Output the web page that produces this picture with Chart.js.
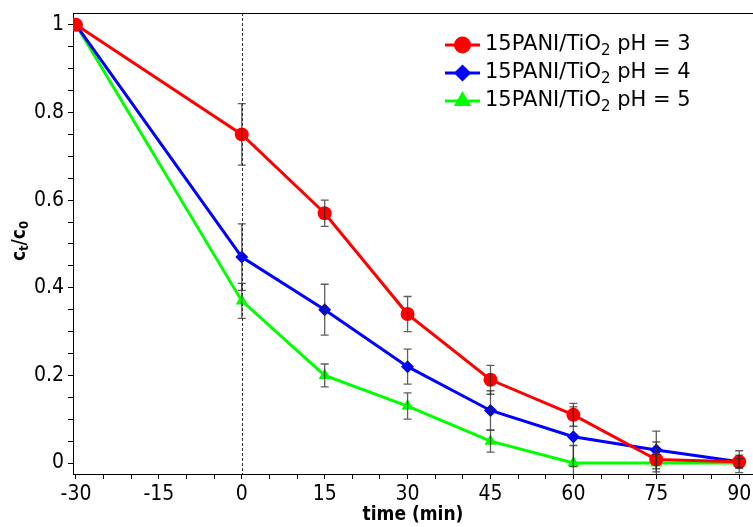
<!DOCTYPE html>
<html>
<head>
<meta charset="utf-8">
<script src="https://cdn.jsdelivr.net/npm/chart.js@4/dist/chart.umd.min.js"></script>
<style>
html, body { margin: 0; padding: 0; background: #fff; overflow: hidden; }
#wrap { width: 753px; height: 527px; position: relative; }
</style>
</head>
<body>
<div id="wrap"><canvas id="myChart"></canvas></div>
<script>
// time points (min)
const times = [-30, 0, 15, 30, 45, 60, 75, 90];
// c_t/c_0 for each pH
const ph3 = [1, 0.75, 0.57, 0.34, 0.19, 0.11, 0.008, 0.003];
const ph3Err = [0, 0.07, 0.03, 0.04, 0.033, 0.026, 0.04, 0.025];
const ph4 = [1, 0.47, 0.35, 0.22, 0.12, 0.06, 0.03, 0.003];
const ph4Err = [0, 0.076, 0.058, 0.04, 0.045, 0.068, 0.043, 0.015];
const ph5 = [1, 0.37, 0.20, 0.13, 0.05, 0, 0, 0];
const ph5Err = [0, 0.04, 0.026, 0.03, 0.025, 0.04, 0.02, 0.01];
// legend labels: [before subscript, subscript, after]
const legendLabels = [
    ['15PANI/TiO', '2', ' pH = 3'],
    ['15PANI/TiO', '2', ' pH = 4'],
    ['15PANI/TiO', '2', ' pH = 5']
];
const xTickLabels = [-30, -15, 0, 15, 30, 45, 60, 75, 90];
const yTickLabels = [0, 0.2, 0.4, 0.6, 0.8, 1];

const FONT = '"DejaVu Sans Condensed", "DejaVu Sans", sans-serif';
const LEGEND_FONT = '"DejaVu Sans", sans-serif';

function pts(ys) {
    return times.map((t, i) => ({ x: t, y: ys[i] }));
}

const errorBars = {
    id: 'errorBars',
    afterDatasetsDraw(chart) {
        const c = chart.ctx, xs = chart.scales.x, ys = chart.scales.y, a = chart.chartArea;
        c.save();
        c.beginPath();
        c.rect(a.left, a.top, a.right - a.left, a.bottom - a.top);
        c.clip();
        c.strokeStyle = 'rgba(40,40,40,0.75)';
        c.lineWidth = 1.3;
        chart.data.datasets.forEach(ds => {
            ds.data.forEach((p, i) => {
                const e = ds.err[i];
                if (!e) return;
                const px = xs.getPixelForValue(p.x);
                const top = ys.getPixelForValue(p.y + e);
                const bot = ys.getPixelForValue(p.y - e);
                c.beginPath();
                c.moveTo(px, top); c.lineTo(px, bot);
                c.moveTo(px - 4, top); c.lineTo(px + 4, top);
                c.moveTo(px - 4, bot); c.lineTo(px + 4, bot);
                c.stroke();
            });
        });
        c.restore();
    }
};

const extras = {
    id: 'extras',
    beforeDatasetsDraw(chart) {
        const c = chart.ctx, xs = chart.scales.x, a = chart.chartArea;
        c.save();
        // dashed line at t = 0
        const x0 = Math.round(xs.getPixelForValue(0)) + 0.5;
        c.strokeStyle = '#333';
        c.lineWidth = 1;
        c.setLineDash([3, 2]);
        c.beginPath();
        c.moveTo(x0, a.top); c.lineTo(x0, a.bottom);
        c.stroke();
        c.setLineDash([]);
        // top frame line
        c.strokeStyle = '#000';
        c.beginPath();
        c.moveTo(a.left, a.top + 0.5); c.lineTo(a.right, a.top + 0.5);
        c.stroke();
        c.restore();
    },
    afterDraw(chart) {
        const c = chart.ctx;
        c.save();
        // legend
        const lx = 445, ly = 45, gap = 28;
        chart.data.datasets.forEach((ds, i) => {
            const y = ly + i * gap;
            c.strokeStyle = ds.borderColor;
            c.lineWidth = 3;
            c.beginPath();
            c.moveTo(lx, y); c.lineTo(lx + 35, y);
            c.stroke();
            Chart.helpers.drawPoint(c, {
                pointStyle: ds.pointStyle, radius: ds.pointRadius, borderWidth: 1
            }, lx + 17.5, y);
            c.fillStyle = ds.pointBackgroundColor;
            c.fill();
            const parts = legendLabels[i];
            c.fillStyle = '#000';
            c.textBaseline = 'middle';
            c.textAlign = 'left';
            c.font = '21px ' + LEGEND_FONT;
            let tx = lx + 40;
            c.fillText(parts[0], tx, y);
            tx += c.measureText(parts[0]).width;
            c.font = '15px ' + LEGEND_FONT;
            c.fillText(parts[1], tx, y + 6);
            tx += c.measureText(parts[1]).width;
            c.font = '21px ' + LEGEND_FONT;
            c.fillText(parts[2], tx, y);
        });
        // y axis title c_t/c_0
        c.translate(20, 241);
        c.rotate(-Math.PI / 2);
        const seg = [['c', 0, 19], ['t', 5, 13], ['/c', 0, 19], ['0', 5, 13]];
        let w = 0;
        seg.forEach(s => { c.font = 'bold ' + s[2] + 'px ' + FONT; w += c.measureText(s[0]).width; });
        let x = -w / 2;
        c.fillStyle = '#000';
        c.textBaseline = 'middle';
        seg.forEach(s => {
            c.font = 'bold ' + s[2] + 'px ' + FONT;
            c.fillText(s[0], x, s[1]);
            x += c.measureText(s[0]).width;
        });
        c.restore();
    }
};

const ctx = document.getElementById('myChart').getContext('2d');
const myChart = new Chart(ctx, {
    type: 'line',
    data: {
        datasets: [
            {
                label: '15PANI/TiO2 pH = 3', data: pts(ph3), err: ph3Err,
                borderColor: '#ff0000', backgroundColor: '#ff0000', pointBackgroundColor: '#ff0000',
                pointStyle: 'circle', pointRadius: 7, borderWidth: 3, pointBorderWidth: 0
            },
            {
                label: '15PANI/TiO2 pH = 4', data: pts(ph4), err: ph4Err,
                borderColor: '#0000ff', backgroundColor: '#0000ff', pointBackgroundColor: '#0000ff',
                pointStyle: 'rectRot', pointRadius: 6.5, borderWidth: 3, pointBorderWidth: 0
            },
            {
                label: '15PANI/TiO2 pH = 5', data: pts(ph5), err: ph5Err,
                borderColor: '#00ff00', backgroundColor: '#00ff00', pointBackgroundColor: '#00ff00',
                pointStyle: 'triangle', pointRadius: 7, borderWidth: 3, pointBorderWidth: 0
            }
        ]
    },
    options: {
        responsive: true,
        maintainAspectRatio: false,
        animation: false,
        layout: { autoPadding: false, padding: { top: 13, right: 0, left: 0, bottom: 0 } },
        plugins: { legend: { display: false }, tooltip: { enabled: false } },
        scales: {
            x: {
                type: 'linear',
                min: -30.54, max: 92.5,
                afterFit: s => { s.height = 53; s.paddingLeft = 0; s.paddingRight = 0; },
                grid: { drawOnChartArea: false, tickLength: 5, color: '#000', tickColor: '#000' },
                border: { color: '#000', width: 1 },
                ticks: {
                    stepSize: 5, includeBounds: false, autoSkip: false, maxRotation: 0,
                    color: '#000', padding: 3,
                    font: { family: FONT, size: 21 },
                    callback: v => xTickLabels.includes(v) ? String(v) : ''
                },
                title: {
                    display: true, text: 'time (min)', color: '#000',
                    font: { family: FONT, size: 19, weight: 'bold' },
                    padding: { top: 0, bottom: 1 }
                }
            },
            y: {
                min: -0.025, max: 1.027,
                afterFit: s => { s.width = 73; s.paddingTop = 0; s.paddingBottom = 0; },
                grid: { drawOnChartArea: false, tickLength: 5, color: '#000', tickColor: '#000' },
                border: { color: '#000', width: 1 },
                ticks: {
                    stepSize: 0.05, includeBounds: false, autoSkip: false,
                    color: '#000', padding: 4,
                    font: { family: FONT, size: 21 },
                    callback: v => {
                        const r = Math.round(v * 100) / 100;
                        return yTickLabels.includes(r) ? String(r) : '';
                    }
                }
            }
        }
    },
    plugins: [extras, errorBars]
});
</script>
</body>
</html>
